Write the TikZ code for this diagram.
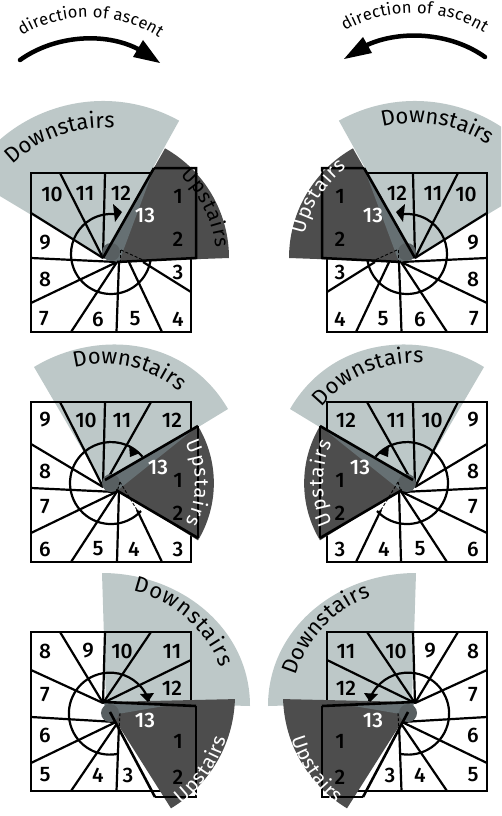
\documentclass[tikz,border=0pt]{standalone}
\usepackage{fontspec}
\setmainfont{Fira Sans}
\newfontfamily\numfont{Fira Sans Medium}
\usetikzlibrary{decorations.text,calc}
\definecolor{lightsec}{HTML}{BDC8C8}
\definecolor{darksec}{HTML}{4D4D4D}
\definecolor{stripcol}{HTML}{667073}
\definecolor{newelcol}{HTML}{585F61}
\tikzset{
  wall/.style={line width=2.5pt,line join=miter},
  tread/.style={line width=2.2pt},
  edge13/.style={line width=2.6pt},
  walk/.style={line width=2.2pt},
  dash13/.style={line width=0.9pt,dash pattern=on 3pt off 2pt},
  num/.style={font=\fontsize{21}{21}\selectfont\numfont,inner sep=0pt,text=black},
  numw/.style={num,text=white},
  lightfill/.style={fill=lightsec,draw=none},
  darkfill/.style={fill=darksec,draw=none},
}
% centre x, centre y, radius, from, to, colour, size, text
\newcommand{\arclabel}[8]{%
  \path[decorate,decoration={text along path,text color=#6,text align={fit to path},
     text={|\fontsize{#7}{#7}\selectfont|#8}}]
     ($(#1,#2)+(-#4:#3)$) arc (-#4:-#5:#3);}
\newcommand{\panelA}{%
  \path[lightfill] (103,258) -- ($(103,258)+(-149:157)$) arc (-149:-61:157) -- cycle;
  \draw[wall] (31,173) rectangle (191,332);
  \draw[tread] (60,173) -- (103,258);
  \draw[tread] (105,173) -- (103,258);
  \draw[tread] (31,213) -- (103,258);
  \draw[tread] (31,258) -- (117,262);
  \draw[tread] (31,303) -- (117,262);
  \draw[tread] (71,332) -- (117,262);
  \draw[tread] (116.5,332) -- (119,262);
  \draw[tread] (162,332) -- (127,258);
  \draw[tread] (191,292) -- (143,262);
  \draw[walk] (151,254) arc (0:282:40);
  \path[darkfill] (103,258) -- ($(103,258)+(-60.5:126)$) arc (-60.5:0:126) -- (117,262) -- cycle;
  \path[fill=stripcol] (154,168) -- (103,258) -- (119,262) -- cycle;
  \path[fill=newelcol] (111,252) circle (9);
  \draw[dash13] (121,250) -- (143,260);
  \draw[dash13] (120,250) -- (120,261);
  \draw[wall] (154,168) -- (196,168) -- (196,258) -- (117,262);
  \draw[edge13] (154,168) -- (103,258);
  \path[fill=black] (122,212) -- (113,204) -- (115,222) -- cycle;
  \node[num] at (52,194) {10}; \node[num] at (85,193) {11}; \node[num] at (121,193) {12};
  \node[numw] at (145,215) {13};
  \node[num] at (178,196) {1}; \node[num] at (178,239) {2}; \node[num] at (178,272) {3};
  \node[num] at (178,319) {4}; \node[num] at (135,319) {5}; \node[num] at (98,319) {6};
  \node[num] at (44,319) {7}; \node[num] at (45,279) {8}; \node[num] at (45,243) {9};
}
\newcommand{\panelB}{%
  \path[lightfill] (103,485) -- (34,367) .. controls (95,330) and (185,335) .. (228,409) -- cycle;
  \draw[wall] (31,402) rectangle (191,562);
  \draw[tread] (60,402) -- (103,487);
  \draw[tread] (105,402) -- (103,487);
  \draw[tread] (151,402) -- (103,487);
  \draw[tread] (31,444) -- (103,487);
  \draw[tread] (31,488) -- (116,492);
  \draw[tread] (31,533) -- (116,492);
  \draw[tread] (71,562) -- (118,490);
  \draw[tread] (117,562) -- (119,490);
  \draw[tread] (162,562) -- (137,510);
  \draw[walk] (141,511) arc (43:320:41);
  \path[darkfill] (105,480) -- (198,426) arc (-31:31:111) -- (115,489) -- cycle;
  \path[fill=stripcol] (198,426) -- (105,480) -- (118,490) -- cycle;
  \path[fill=newelcol] (111,483) circle (9);
  \draw[dash13] (137,510) -- (120,482);
  \draw[dash13] (120,482) -- (117,492);
  \draw[wall] (198,426) -- (198,538);
  \draw[edge13] (198,426) -- (105,480);
  \draw[edge13] (198,538) -- (116,490);
  \path[fill=black] (140,453) -- (129,445) -- (130,457) -- cycle;
  \node[num] at (45,420) {9}; \node[num] at (86,420) {10}; \node[num] at (122,420) {11};
  \node[num] at (172,420) {12};
  \node[numw] at (158,467) {13};
  \node[num] at (178,480) {1}; \node[num] at (178,513) {2}; \node[num] at (178,549) {3};
  \node[num] at (134,549) {4}; \node[num] at (98,549) {5}; \node[num] at (45,549) {6};
  \node[num] at (45,507) {7}; \node[num] at (45,471) {8};
}
\newcommand{\panelC}{%
  \path[lightfill] (106,702) -- (102,573) .. controls (180,573) and (250,628) .. (250,706) -- cycle;
  \draw[wall] (31,632) rectangle (191,791);
  \draw[tread] (60,632) -- (103,703);
  \draw[tread] (105,632) -- (103,703);
  \draw[tread] (151,632) -- (103,703);
  \draw[tread] (191,660) -- (103,703);
  \draw[tread] (31,670) -- (103,703);
  \draw[tread] (31,717) -- (116,722);
  \draw[tread] (31,763) -- (116,722);
  \draw[tread] (71,791) -- (118,722);
  \draw[tread] (116.5,791) -- (119,725);
  \draw[walk] (117,754) arc (80:355:41);
  \path[darkfill] (104,702) -- ($(103,703)+(-1.7:132)$) arc (1.7:59:132) -- (110,712) -- cycle;
  \path[fill=stripcol] (170,705) -- (104,702) -- (106,716) -- cycle;
  \path[fill=newelcol] (110,713) circle (9);
  \draw[dash13] (120,713) -- (119,734);
  \draw[wall] (196,706) -- (196,797) -- (155,797);
  \draw[edge13] (155,797) -- (110,712);
  \draw[edge13] (196,706) -- (104,702);
  \path[fill=black] (148,702) -- (140,694) -- (154,693) -- cycle;
  \node[num] at (45,651) {8}; \node[num] at (88,651) {9}; \node[num] at (122,651) {10};
  \node[num] at (172,651) {11}; \node[num] at (172,688) {12};
  \node[numw] at (145,720) {13};
  \node[num] at (178,741) {1}; \node[num] at (178,777) {2}; \node[num] at (128,775) {3};
  \node[num] at (98,775) {4}; \node[num] at (45,775) {5}; \node[num] at (45,735) {6};
  \node[num] at (45,695) {7};
}
\begin{document}
\begin{tikzpicture}[x=1pt,y=-1pt]
\useasboundingbox (0,0) rectangle (501,816);
\clip (0,0) rectangle (501,816);
% direction of ascent
\path[decorate,decoration={text along path,text align={fit to path},
  text={|\fontsize{16.5}{16.5}\selectfont|direction of ascent}}]
  (22,36) .. controls (60,11) and (120,11) .. (159,38);
\path[decorate,decoration={text along path,text align={fit to path},
  text={|\fontsize{16.5}{16.5}\selectfont|direction of ascent}}]
  (345,31) .. controls (385,7) and (445,7) .. (484,33);
\draw[line width=4.5pt,line cap=round] (20,60) .. controls (55,35) and (105,32) .. (138,49);
\path[fill=black] (160,63) -- (143,40) -- (133,57) -- cycle;
\draw[line width=4.5pt,line cap=round] (485,57) .. controls (450,32) and (400,30) .. (367,45);
\path[fill=black] (344,59) -- (363,37) -- (372,53) -- cycle;
% left column
\panelA \panelB \panelC
% right column
\begin{scope}[shift={(518,0)},xscale=-1]
\panelA \panelB \panelC
\end{scope}
% curved labels
\arclabel{103}{258}{130}{134}{85}{black}{22}{Downstairs}
\arclabel{415}{258}{135}{104}{58}{black}{22}{Downstairs}
\arclabel{103}{258}{113}{47}{5}{black}{20}{Upstairs}
\arclabel{415}{258}{113}{168}{127}{white}{20}{Upstairs}
\arclabel{103}{483}{119}{104}{50}{black}{22}{Downstairs}
\arclabel{415}{483}{120}{141}{86}{black}{22}{Downstairs}
\arclabel{103}{483}{92}{26}{-26}{white}{20}{Upstairs}
\arclabel{415}{483}{92}{206}{154}{white}{20}{Upstairs}
\arclabel{105}{712}{124}{77}{21}{black}{22}{Downstairs}
\arclabel{413}{712}{123}{163}{110}{black}{22}{Downstairs}
\arclabel{103}{703}{128}{-52}{-16}{white}{20}{Upstairs}
\arclabel{415}{703}{128}{196}{232}{white}{20}{Upstairs}
\end{tikzpicture}
\end{document}
